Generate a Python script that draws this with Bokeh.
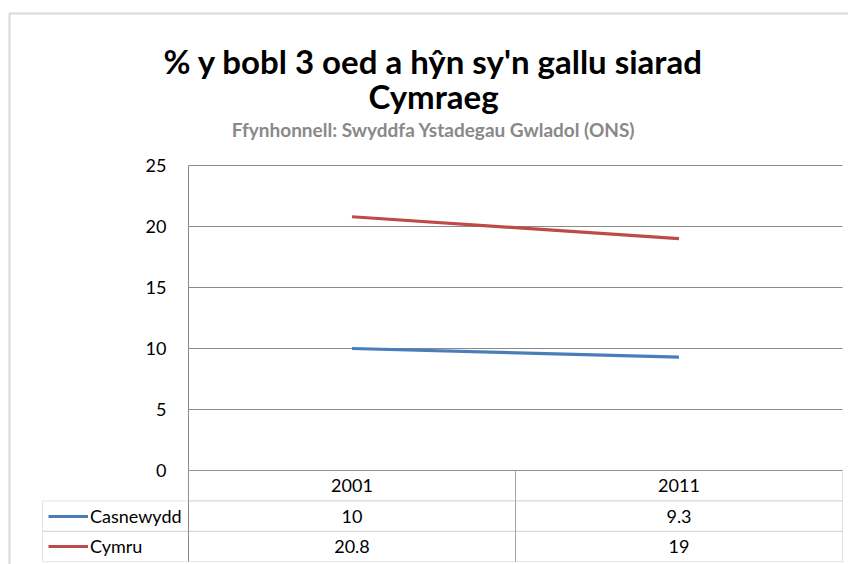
from bokeh.plotting import figure
from bokeh.models import Range1d, FixedTicker, Label, BoxAnnotation, Legend, LegendItem, LinearAxis
from bokeh.core.properties import value
from bokeh.embed import file_html
from bokeh.resources import INLINE

# ---- data ----
title_lines = ["% y bobl 3 oed a hŷn sy'n gallu siarad", "Cymraeg"]
subtitle = "Ffynhonnell: Swyddfa Ystadegau Gwladol (ONS)"
years = ["2001", "2011"]
series_names = ["Casnewydd", "Cymru"]
casnewydd = [10, 9.3]
cymru = [20.8, 19]
series_values = [casnewydd, cymru]
series_colors = ["#4A7EBB", "#BE4B48"]
y_ticks = [0, 5, 10, 15, 20, 25]

# ---- layout (canvas pixels) ----
W, H = 848, 564
PLOT_L, PLOT_R = 188, 842      # plot area left / right
Y0, Y_TOP = 470, 165           # pixel of value 0 and of top tick
PPU = (Y0 - Y_TOP) / float(y_ticks[-1])
XPU = (PLOT_R - PLOT_L) / float(len(years))
ROW_PX = 30.4

def dx(cx):
    return (cx - PLOT_L) / XPU

def dy(cy):
    return (Y0 - cy) / PPU

ROW = ROW_PX / PPU
N_ROWS = len(series_names) + 1
LEFT_COL = dx(42)
FONT = "Lato"
GRID = "#898989"
TABLE = "#a6a6a6"

p = figure(width=W, height=H, x_range=Range1d(dx(0), dx(W)), y_range=Range1d(dy(H), dy(0)),
           output_backend="svg", toolbar_location=None, x_axis_location=None, y_axis_location=None,
           min_border_left=0, min_border_right=0, min_border_top=0, min_border_bottom=0)
p.outline_line_color = None
p.background_fill_color = "white"
p.border_fill_color = "white"
p.xgrid.visible = False
p.ygrid.visible = False

# horizontal gridlines across the plot area
p.segment(x0=[0] * len(y_ticks), y0=y_ticks, x1=[len(years)] * len(y_ticks), y1=y_ticks,
          line_color=GRID, line_width=1)

# y axis, fixed at the plot area's left edge
yaxis = LinearAxis(fixed_location=0, ticker=FixedTicker(ticks=y_ticks),
                   bounds=(-N_ROWS * ROW, y_ticks[-1]))
yaxis.major_tick_line_color = None
yaxis.minor_tick_line_color = None
yaxis.axis_line_color = GRID
yaxis.major_label_standoff = 16
yaxis.major_label_text_font = FONT
yaxis.major_label_text_font_size = "18px"
yaxis.major_label_text_color = "#000000"
p.add_layout(yaxis, "left")

xs = [i + 0.5 for i in range(len(years))]

# series lines
renderers = []
for vals, col in zip(series_values, series_colors):
    r = p.line(x=xs, y=vals, line_color=col, line_width=3.2)
    renderers.append(r)

# data table
p.add_layout(BoxAnnotation(left=0, right=len(years), top=0, bottom=-ROW,
                           fill_alpha=0, line_color=TABLE, line_width=1))
for k in range(len(series_names)):
    p.add_layout(BoxAnnotation(left=LEFT_COL, right=len(years), top=-(k + 1) * ROW,
                               bottom=-(k + 2) * ROW, fill_alpha=0, line_color=TABLE, line_width=1))
for i in range(1, len(years)):
    p.segment(x0=[i], y0=[0], x1=[i], y1=[-N_ROWS * ROW], line_color=TABLE, line_width=1)

p.text(x=xs, y=[-ROW / 2] * len(years), text=years, text_align="center", text_baseline="middle",
       text_font=value(FONT), text_font_size="18px", text_color="#000000")
for k, vals in enumerate(series_values):
    p.text(x=xs, y=[-(k + 1.5) * ROW] * len(vals), text=[f"{v:g}" for v in vals],
           text_align="center", text_baseline="middle",
           text_font=value(FONT), text_font_size="18px", text_color="#000000")

# legend keys in the table's first column
legend = Legend(items=[LegendItem(label=n, renderers=[r]) for n, r in zip(series_names, renderers)],
                location=(48, H - (Y0 + N_ROWS * ROW_PX)),
                glyph_width=40, glyph_height=int(ROW_PX), label_height=int(ROW_PX), spacing=0,
                label_standoff=2, padding=0, margin=0, background_fill_alpha=0, border_line_alpha=0,
                label_text_font=FONT, label_text_font_size="18px", label_text_color="#000000")
p.add_layout(legend, "center")

# outer chart border (only its left and top edges are in view)
p.add_layout(BoxAnnotation(left=dx(9), right=dx(W + 40), top=dy(13), bottom=dy(H + 40),
                           fill_alpha=0, line_color="#808080", line_width=2))

# titles
TCX = dx(433)
p.add_layout(Label(x=TCX, y=dy(60), text=title_lines[0], text_align="center", text_baseline="alphabetic",
                   text_font=FONT, text_font_style="bold", text_font_size="33px", text_color="#000000"))
p.add_layout(Label(x=TCX, y=dy(95), text=title_lines[1], text_align="center", text_baseline="alphabetic",
                   text_font=FONT, text_font_style="bold", text_font_size="33px", text_color="#000000"))
p.add_layout(Label(x=TCX, y=dy(129), text=subtitle, text_align="center", text_baseline="alphabetic",
                   text_font=FONT, text_font_style="bold", text_font_size="19px", text_color="#898989"))

open("out.html", "w").write(file_html(p, INLINE))
